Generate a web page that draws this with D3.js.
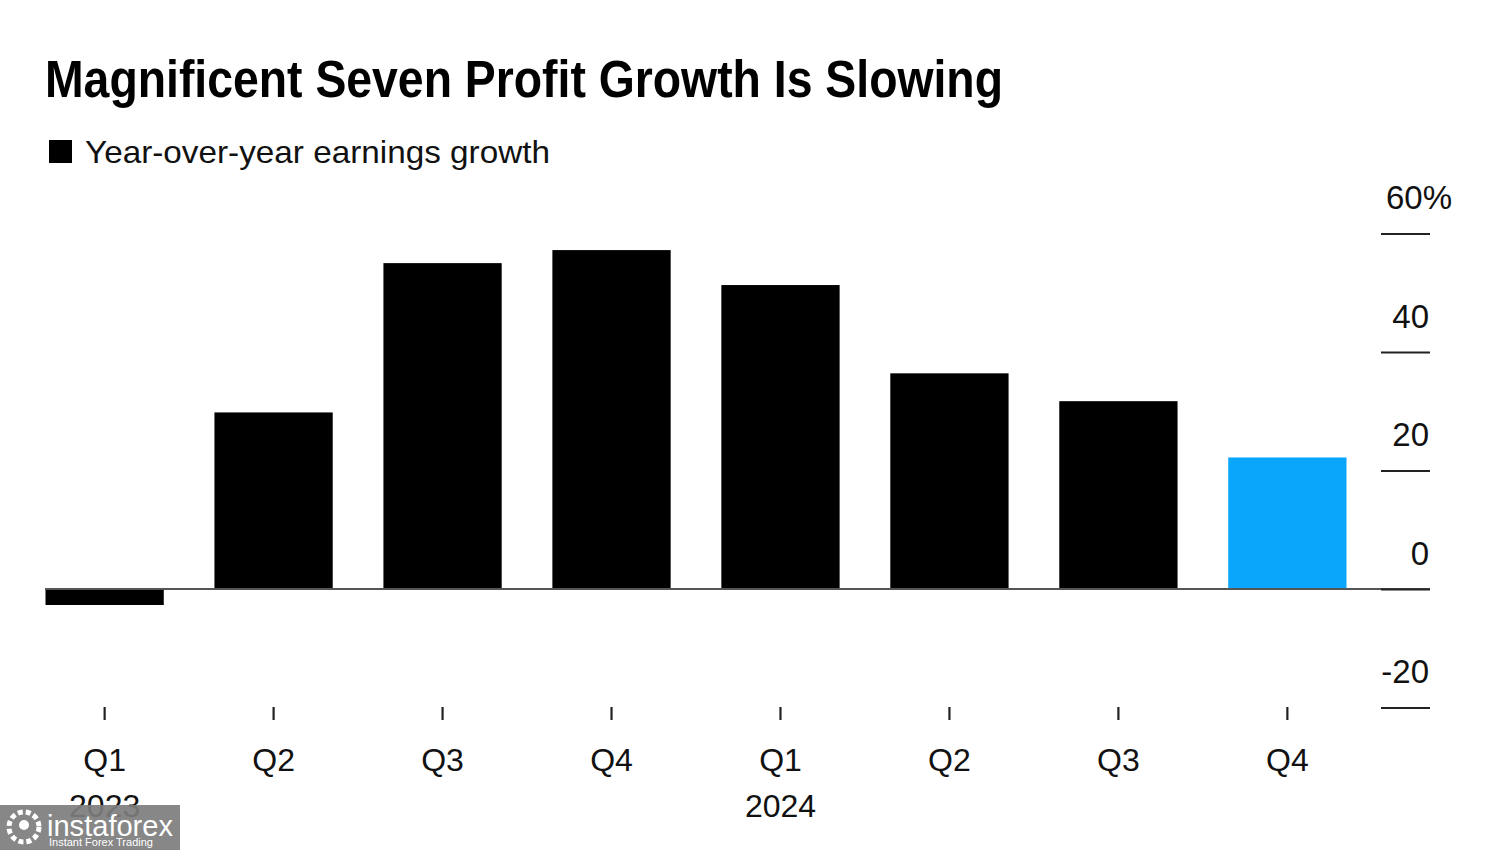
<!DOCTYPE html>
<html>
<head>
<meta charset="utf-8">
<script src="https://cdn.jsdelivr.net/npm/d3@7"></script>
<style>
  html, body { margin: 0; padding: 0; background: #fff; }
  svg { display: block; font-family: "Liberation Sans", Arial, Helvetica, sans-serif; }
</style>
</head>
<body>
<svg id="chart" width="1500" height="850"></svg>
<script>
const categories = ["Q1 2023", "Q2 2023", "Q3 2023", "Q4 2023", "Q1 2024", "Q2 2024", "Q3 2024", "Q4 2024"];
const quarterLabels = ["Q1", "Q2", "Q3", "Q4", "Q1", "Q2", "Q3", "Q4"];
const yearLabels = ["2023", "", "", "", "2024", "", "", ""];
const growth = [-2.7, 29.8, 55.0, 57.2, 51.3, 36.4, 31.7, 22.2];
const highlighted = [false, false, false, false, false, false, false, true];
const yTicks = [-20, 0, 20, 40, 60];
const yTickLabels = ["-20", "0", "20", "40", "60%"];

const svg = d3.select("#chart");

const x = d3.scaleBand()
  .domain(categories)
  .range([45.5, 1346.5])
  .paddingInner(0.3)
  .paddingOuter(0);

const y = d3.scaleLinear()
  .domain([-20, 60])
  .range([707.5, 233.5]);

// Title
svg.append("text")
  .attr("x", 45)
  .attr("y", 97)
  .attr("font-size", 51)
  .attr("font-weight", "bold")
  .attr("fill", "#000")
  .attr("textLength", 958)
  .attr("lengthAdjust", "spacingAndGlyphs")
  .text("Magnificent Seven Profit Growth Is Slowing");

// Legend
svg.append("rect")
  .attr("x", 49).attr("y", 140)
  .attr("width", 23).attr("height", 23)
  .attr("fill", "#000");
svg.append("text")
  .attr("x", 85)
  .attr("y", 163)
  .attr("font-size", 32)
  .attr("fill", "#111")
  .attr("textLength", 465)
  .attr("lengthAdjust", "spacingAndGlyphs")
  .text("Year-over-year earnings growth");

// Bars
svg.append("g")
  .selectAll("rect")
  .data(categories)
  .join("rect")
  .attr("x", d => x(d))
  .attr("width", x.bandwidth())
  .attr("y", (d, i) => y(Math.max(0, growth[i])))
  .attr("height", (d, i) => Math.abs(y(growth[i]) - y(0)))
  .attr("fill", (d, i) => highlighted[i] ? "#0aa6fb" : "#000");

// Zero line
svg.append("line")
  .attr("x1", 45).attr("x2", 1430)
  .attr("y1", y(0)).attr("y2", y(0))
  .attr("stroke", "#555")
  .attr("stroke-width", 2.2);

// Y axis (right side)
const yAxis = d3.axisRight(y)
  .tickValues(yTicks)
  .tickSize(0)
  .tickFormat((d, i) => yTickLabels[i]);

const yg = svg.append("g")
  .attr("transform", "translate(1381,0)")
  .call(yAxis);
yg.select(".domain").remove();
yg.selectAll(".tick line").remove();
yg.selectAll(".tick").append("line")
  .attr("x1", 0).attr("x2", 49)
  .attr("y1", 0).attr("y2", 0)
  .attr("stroke", "#222")
  .attr("stroke-width", 2.2);
yg.selectAll(".tick text")
  .attr("x", 48)
  .attr("dy", -25)
  .attr("text-anchor", "end")
  .attr("font-size", 33)
  .attr("font-family", "'Liberation Sans', Arial, sans-serif")
  .attr("fill", "#111")
  .each(function(d) {
    if (d === 60) d3.select(this).attr("text-anchor", "start").attr("x", 5);
  });

// X axis
const xAxis = d3.axisBottom(x)
  .tickSize(0)
  .tickFormat((d, i) => quarterLabels[i]);

const xg = svg.append("g")
  .attr("transform", "translate(0,707)")
  .call(xAxis);
xg.select(".domain").remove();
xg.selectAll(".tick line").remove();
xg.selectAll(".tick").append("line")
  .attr("y1", 0).attr("y2", 13)
  .attr("stroke", "#222")
  .attr("stroke-width", 2.2);
xg.selectAll(".tick text")
  .attr("y", 64)
  .attr("dy", 0)
  .attr("font-size", 32)
  .attr("font-family", "'Liberation Sans', Arial, sans-serif")
  .attr("fill", "#111");
xg.selectAll(".tick")
  .append("text")
  .attr("y", 110)
  .attr("text-anchor", "middle")
  .attr("font-size", 32)
  .attr("font-family", "'Liberation Sans', Arial, sans-serif")
  .attr("fill", "#111")
  .text((d, i) => yearLabels[i]);

// Watermark
const wm = svg.append("g");
wm.append("rect")
  .attr("x", 0).attr("y", 805)
  .attr("width", 180).attr("height", 45)
  .attr("fill", "#7d7d7d")
  .attr("opacity", 0.92);
wm.append("circle")
  .attr("cx", 24).attr("cy", 827)
  .attr("r", 15)
  .attr("fill", "none")
  .attr("stroke", "#fff")
  .attr("stroke-width", 5)
  .attr("stroke-dasharray", "5 3");
wm.append("circle")
  .attr("cx", 24).attr("cy", 825)
  .attr("r", 5)
  .attr("fill", "#fff");
wm.append("text")
  .attr("x", 47).attr("y", 836)
  .attr("font-size", 30)
  .attr("fill", "#fff")
  .attr("textLength", 126)
  .attr("lengthAdjust", "spacingAndGlyphs")
  .text("instaforex");
wm.append("text")
  .attr("x", 49).attr("y", 846)
  .attr("font-size", 11)
  .attr("fill", "#fff")
  .text("Instant Forex Trading");
</script>
</body>
</html>
